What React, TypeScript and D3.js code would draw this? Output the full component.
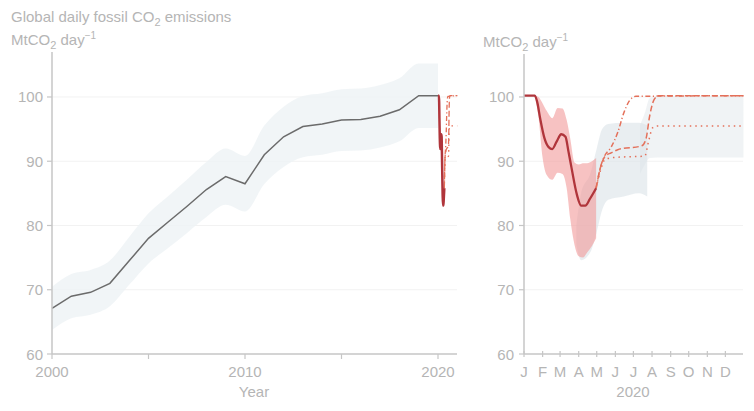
import React from 'react';
import * as d3 from 'd3';

// ---------- data ----------
const years = [2000, 2001, 2002, 2003, 2004, 2005, 2006, 2007, 2008, 2009, 2010, 2011, 2012, 2013, 2014, 2015, 2016, 2017, 2018, 2019, 2020];
const annualMean = [67.1, 69.0, 69.6, 71.0, 74.5, 78.0, 80.5, 83.0, 85.6, 87.6, 86.5, 91.0, 93.8, 95.4, 95.8, 96.4, 96.5, 97.0, 98.0, 100.2, 100.2];
const annualUncertainty = 0.05;

const dailyDates = ['2020-01-01', '2020-01-12', '2020-01-19', '2020-01-23', '2020-01-28', '2020-02-04', '2020-02-11', '2020-02-17', '2020-02-24', '2020-03-03', '2020-03-10', '2020-03-15', '2020-03-20', '2020-03-29', '2020-04-05', '2020-04-12', '2020-04-20', '2020-04-30'];
const dailyValues = [100.2, 100.2, 100.2, 99.2, 96.6, 93.6, 92.2, 91.9, 93.0, 94.2, 93.8, 91.5, 89.0, 84.8, 83.1, 83.1, 84.2, 85.8];

const pinkDates = ['2020-01-19', '2020-01-25', '2020-02-01', '2020-02-08', '2020-02-17', '2020-02-26', '2020-03-05', '2020-03-12', '2020-03-18', '2020-03-25', '2020-04-01', '2020-04-08', '2020-04-15', '2020-04-23', '2020-04-30'];
const pinkLow = [100.2, 97.0, 90.5, 87.8, 87.1, 88.2, 88.0, 85.8, 81.0, 77.0, 75.2, 75.0, 75.8, 76.8, 78.0];
const pinkHigh = [100.2, 100.0, 99.0, 97.8, 96.7, 98.3, 98.2, 96.4, 93.5, 89.8, 89.5, 89.7, 89.7, 90.0, 90.5];

const confDates = ['2020-03-28', '2020-04-05', '2020-04-20', '2020-05-01', '2020-05-10', '2020-05-20', '2020-06-15', '2020-07-10', '2020-07-24'];
const confLow = [77.0, 74.6, 75.8, 79.0, 82.4, 84.0, 84.5, 85.0, 84.5];
const confHigh = [80.0, 85.0, 88.0, 92.0, 95.0, 95.8, 96.0, 96.0, 95.6];

const postDates = ['2020-07-12', '2020-07-20', '2020-07-28', '2020-08-10', '2020-12-31'];
const postLow = [88.0, 89.5, 90.5, 90.6, 90.6];
const postHigh = [95.6, 97.5, 99.8, 100.2, 100.2];

const s1Dates = ['2020-04-30', '2020-05-07', '2020-05-14', '2020-05-25', '2020-06-05', '2020-06-15', '2020-06-25', '2020-07-05', '2020-12-31'];
const s1Values = [85.8, 89.0, 90.8, 92.2, 94.5, 97.5, 99.5, 100.1, 100.2];
const s2Dates = ['2020-04-30', '2020-05-08', '2020-05-15', '2020-05-25', '2020-06-05', '2020-07-15', '2020-07-22', '2020-07-28', '2020-08-04', '2020-08-12', '2020-12-31'];
const s2Values = [85.8, 89.3, 90.8, 91.3, 91.8, 92.4, 93.5, 97.0, 99.5, 100.2, 100.2];
const s3Dates = ['2020-04-30', '2020-05-08', '2020-05-15', '2020-06-01', '2020-07-20', '2020-07-26', '2020-08-02', '2020-08-10', '2020-12-31'];
const s3Values = [85.8, 88.8, 90.3, 90.6, 90.8, 93.0, 95.2, 95.5, 95.5];

const yTicks = [60, 70, 80, 90, 100];
const yearTicks = [2000, 2005, 2010, 2015, 2020];
const yearLabels = [2000, 2010, 2020];
const monthLabels = ['J', 'F', 'M', 'A', 'M', 'J', 'J', 'A', 'S', 'O', 'N', 'D'];

// ---------- helpers ----------
const parse = d3.timeParse('%Y-%m-%d');
const y0 = new Date(2020, 0, 1).getTime();
const y1 = new Date(2021, 0, 1).getTime();
const toYear = (d: Date) => 2020 + (d.getTime() - y0) / (y1 - y0);

const TXT = '#b5b5b5';
const AX = '#c6c6c6';
const GRID = '#f2f2f2';
const FONT = 'Liberation Sans, Arial, sans-serif';
const RED = '#b0353b';
const ORANGE = '#e4705a';

export default function App() {
  const yScale = d3.scaleLinear().domain([60, 107]).range([354, 52]);
  const xYear = d3.scaleLinear().domain([2000, 2021]).range([52, 457.3]);
  const xDay = d3.scaleTime().domain([new Date(2020, 0, 1), new Date(2021, 0, 1)]).range([524, 744]);

  const annual = years.map((yr, i) => ({ x: yr, v: annualMean[i] }));
  const daily = dailyDates.map((d, i) => ({ d: parse(d)!, v: dailyValues[i] }));
  const pink = pinkDates.map((d, i) => ({ d: parse(d)!, lo: pinkLow[i], hi: pinkHigh[i] }));
  const conf = confDates.map((d, i) => ({ d: parse(d)!, lo: confLow[i], hi: confHigh[i] }));
  const post = postDates.map((d, i) => ({ d: parse(d)!, lo: postLow[i], hi: postHigh[i] }));
  const mk = (ds: string[], vs: number[]) => ds.map((d, i) => ({ d: parse(d)!, v: vs[i] }));
  const scen = [
    { data: mk(s1Dates, s1Values), dash: '5,2.5,1.2,2.5' },
    { data: mk(s2Dates, s2Values), dash: '6,3' },
    { data: mk(s3Dates, s3Values), dash: '1.5,4' },
  ];

  const annualLine = d3.line<{ x: number; v: number }>().x(p => xYear(p.x)).y(p => yScale(p.v));
  const annualArea = d3
    .area<{ x: number; v: number }>()
    .x(p => xYear(p.x))
    .y0(p => yScale(p.v * (1 - annualUncertainty)))
    .y1(p => yScale(p.v * (1 + annualUncertainty)))
    .curve(d3.curveMonotoneX);

  const dayLine = d3.line<{ d: Date; v: number }>().x(p => xDay(p.d)).y(p => yScale(p.v)).curve(d3.curveMonotoneX);
  const dayLineYear = d3.line<{ d: Date; v: number }>().x(p => xYear(toYear(p.d))).y(p => yScale(p.v)).curve(d3.curveMonotoneX);
  const dayArea = d3
    .area<{ d: Date; lo: number; hi: number }>()
    .x(p => xDay(p.d))
    .y0(p => yScale(p.lo))
    .y1(p => yScale(p.hi))
    .curve(d3.curveMonotoneX);

  const months = d3.timeMonths(new Date(2020, 0, 1), new Date(2021, 0, 1));

  const unitLabel = (x: number, y: number) => (
    <text x={x} y={y} fill={TXT} fontSize={15} fontFamily={FONT}>
      MtCO<tspan fontSize={11} dy={4}>2</tspan>
      <tspan dy={-4}> day</tspan>
      <tspan fontSize={10} dy={-6}>−1</tspan>
    </text>
  );

  return (
    <svg width={754} height={411} style={{ position: 'absolute', left: 0, top: 0, background: '#fff' }}>
      {/* titles */}
      <text x={11} y={22} fill={TXT} fontSize={15} fontFamily={FONT}>
        Global daily fossil CO<tspan fontSize={11} dy={4}>2</tspan>
        <tspan dy={-4}> emissions</tspan>
      </text>
      {unitLabel(11, 45)}
      {unitLabel(483, 47)}

      {/* ---------- left panel ---------- */}
      {yTicks.filter(t => t > 60).map(t => (
        <line key={'lg' + t} x1={52} x2={457} y1={yScale(t)} y2={yScale(t)} stroke={GRID} strokeWidth={1} />
      ))}
      <path d={annualArea(annual) || ''} fill="#eef2f5" fillOpacity={0.8} />
      <path d={annualLine(annual) || ''} fill="none" stroke="#6b6b6b" strokeWidth={1.5} />
      {scen.map((s, i) => (
        <path key={'ls' + i} d={dayLineYear(s.data) || ''} fill="none" stroke={ORANGE} strokeWidth={1.3} strokeDasharray={s.dash} />
      ))}
      <path d={dayLineYear(daily) || ''} fill="none" stroke={RED} strokeWidth={2.5} />

      <line x1={52} x2={52} y1={52} y2={354} stroke={AX} strokeWidth={1.5} />
      <line x1={52} x2={457} y1={354} y2={354} stroke={AX} strokeWidth={1.5} />
      {yTicks.map(t => (
        <g key={'ly' + t}>
          <line x1={47} x2={52} y1={yScale(t)} y2={yScale(t)} stroke={AX} strokeWidth={1.2} />
          <text x={43} y={yScale(t) + 5.5} textAnchor="end" fill={TXT} fontSize={15} fontFamily={FONT}>{t}</text>
        </g>
      ))}
      {yearTicks.map(t => (
        <line key={'lx' + t} x1={xYear(t)} x2={xYear(t)} y1={354} y2={359} stroke={AX} strokeWidth={1.2} />
      ))}
      {yearLabels.map(t => (
        <text key={'lxl' + t} x={xYear(t)} y={377} textAnchor="middle" fill={TXT} fontSize={15} fontFamily={FONT}>{t}</text>
      ))}
      <text x={254} y={397} textAnchor="middle" fill={TXT} fontSize={15} fontFamily={FONT}>Year</text>

      {/* ---------- right panel ---------- */}
      {yTicks.filter(t => t > 60).map(t => (
        <line key={'rg' + t} x1={524} x2={743} y1={yScale(t)} y2={yScale(t)} stroke={GRID} strokeWidth={1} />
      ))}
      <path d={dayArea(post) || ''} fill="#e9eef1" fillOpacity={0.7} />
      <path d={dayArea(conf) || ''} fill="#dbe2e7" fillOpacity={0.6} />
      <path d={dayArea(pink) || ''} fill="#f29a9a" fillOpacity={0.6} />
      {scen.map((s, i) => (
        <path key={'rs' + i} d={dayLine(s.data) || ''} fill="none" stroke={ORANGE} strokeWidth={1.5} strokeDasharray={s.dash} />
      ))}
      <path d={dayLine(daily) || ''} fill="none" stroke={RED} strokeWidth={2.3} />

      <line x1={524} x2={524} y1={54} y2={354} stroke={AX} strokeWidth={1.5} />
      <line x1={524} x2={743} y1={354} y2={354} stroke={AX} strokeWidth={1.5} />
      {yTicks.map(t => (
        <g key={'ry' + t}>
          <line x1={519} x2={524} y1={yScale(t)} y2={yScale(t)} stroke={AX} strokeWidth={1.2} />
          <text x={514} y={yScale(t) + 5.5} textAnchor="end" fill={TXT} fontSize={15} fontFamily={FONT}>{t}</text>
        </g>
      ))}
      {months.map((m, i) => (
        <g key={'rm' + i}>
          <line x1={xDay(m)} x2={xDay(m)} y1={351} y2={357} stroke={AX} strokeWidth={1.2} />
          <text x={xDay(m)} y={377} textAnchor="middle" fill={TXT} fontSize={15} fontFamily={FONT}>{monthLabels[i]}</text>
        </g>
      ))}
      <text x={633} y={397} textAnchor="middle" fill={TXT} fontSize={15} fontFamily={FONT}>2020</text>
    </svg>
  );
}
